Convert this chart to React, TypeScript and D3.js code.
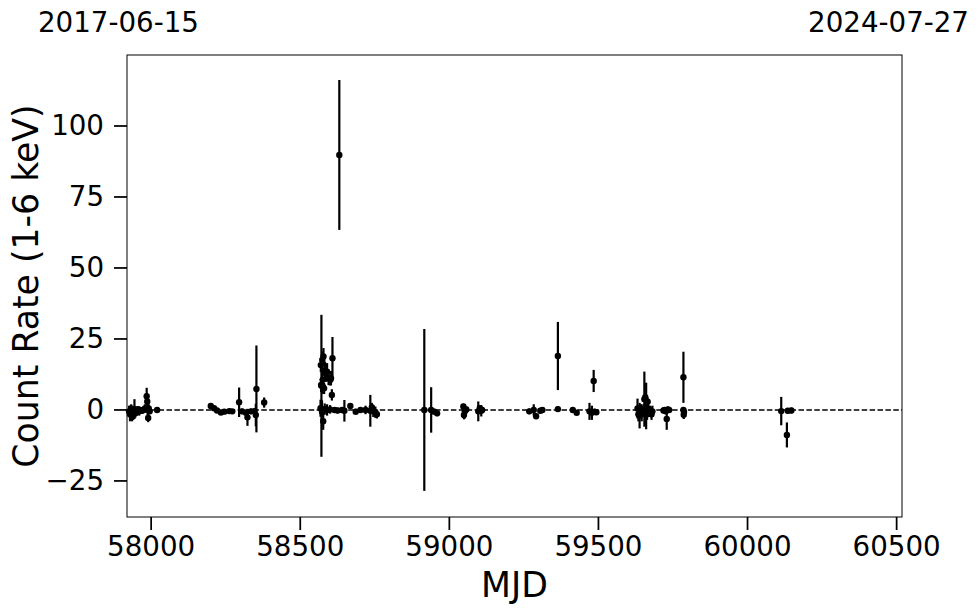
import React from "react";
import * as d3 from "d3";

// Light curve data (MJD, count rate 1-6 keV, 1-sigma error)
const mjd = [
  57926, 57929, 57933, 57936, 57940, 57944, 57947, 57951, 57956, 57960, 57964, 57969, 57974, 57979, 57985, 57987, 57988, 57990, 57992, 57995, 58020,
  58200, 58211, 58221, 58234, 58245, 58262, 58272, 58295, 58305, 58318, 58323, 58335, 58346, 58351, 58353, 58379,
  58569, 58570, 58571, 58574, 58575, 58576, 58578, 58580, 58583, 58586, 58590, 58595, 58601, 58603, 58606, 58608,
  58568, 58573, 58577, 58582, 58590, 58600, 58615, 58625, 58640, 58648, 58668, 58686, 58702, 58719, 58735, 58740, 58745, 58752, 58757, 58631,
  58916, 58939, 58950, 58959, 59047, 59049, 59052, 59057, 59097, 59102, 59107, 59110,
  59268, 59283, 59291, 59305, 59312, 59364, 59364, 59414, 59427, 59470, 59478, 59484, 59487, 59493,
  59631, 59634, 59638, 59642, 59645, 59650, 59654, 59657, 59660, 59663, 59665, 59669, 59673, 59678, 59681,
  59718, 59722, 59726, 59729, 59733, 59737, 59785, 59785, 59786, 59787,
  60113, 60132, 60135, 60147,
];
const rate = [
  -0.5, -1.5, 0.5, -2.5, -1.0, 0.3, -1.2, 0, 0.3, -0.5, 0, -0.3, 0, 0.5, 4.8, 3.0, 0.2, -2.8, 0.5, -0.5, 0,
  1.4, 0.6, -0.2, -0.9, -0.6, -0.4, -0.5, 2.7, -0.5, -1.0, -2.6, -0.5, -0.5, -1.8, 7.4, 2.6,
  15.8, 8.8, 8.5, 17.6, 10.6, 8.2, 18.8, 7.6, 14.0, 12.9, 13.5, 11.2, 10.6, 11.2, 5.3, 18.2,
  0.6, -0.6, -4.0, 0.3, 0, 0.2, 0, -0.2, 0, -0.3, 1.4, -0.6, 0, 0, -0.3, 1.0, -0.5, -0.8, -1.5, 89.8,
  0, 0, -0.6, -1.2, 1.2, -1.8, -0.5, 0.2, -0.5, 0.6, -0.3, 0,
  -0.5, 0, -2.2, -0.3, 0, 19.0, 0.3, 0, -1.0, -0.5, -1.0, 10.2, -0.6, -0.8,
  0.5, -1.5, -2.0, 0, -1.0, -0.5, 3.8, 4.5, 1.4, -1.5, 2.9, -0.5, 0, -1.5, -0.5,
  -0.2, 0, -0.5, -3.2, 0.2, 0, 11.5, 0, -1.7, -0.7,
  -0.4, -8.8, -0.3, -0.2,
];
const rateErr = [
  2, 2.5, 1.5, 1.5, 2, 3.5, 1.5, 1, 1, 1.5, 1, 1, 1, 1.5, 3, 2, 2, 1.5, 1.5, 1, 0.8,
  0.8, 0.8, 0.8, 0.8, 0.8, 0.8, 0.8, 5.2, 1, 1, 3, 1, 1.2, 4, 15.3, 1.8,
  2.5, 2.5, 25, 3, 3, 2.5, 3, 2, 3, 3, 3, 2.5, 2, 2.5, 2, 7.5,
  3, 4, 3, 2, 2, 1.5, 1, 1, 1, 3.8, 1, 1, 1, 1.5, 5.6, 1.5, 2, 2, 1.5, 26.4,
  28.5, 8, 1, 1, 1, 1.5, 2.5, 1, 3.5, 1, 2, 1,
  1, 2, 1, 1, 1, 12, 1, 0.8, 0.8, 3, 2.5, 3.9, 1, 1,
  3.5, 2.5, 4.5, 2, 3, 2, 9.7, 1.5, 8.2, 2, 1.5, 2, 1.5, 2, 2,
  1, 1, 1, 3.8, 1, 1, 9, 1, 1.5, 1.5,
  5, 4.4, 1, 1,
];

const xTicks = [58000, 58500, 59000, 59500, 60000, 60500];
const yTicks = [-25, 0, 25, 50, 75, 100];
const startDate = "2017-06-15";
const endDate = "2024-07-27";
const xLabel = "MJD";
const yLabel = "Count Rate (1-6 keV)";

const W = 980;
const H = 613;
const M = { left: 127, right: 902, top: 55, bottom: 517 };
const FONT = "DejaVu Sans, sans-serif";

export default function App() {
  const x = d3.scaleLinear().domain([57919, 60518]).range([M.left, M.right]);
  const y = d3.scaleLinear().domain([-37.7, 125]).range([M.bottom, M.top]);
  const pts = mjd.map((m, i) => ({ m, v: rate[i], e: rateErr[i] }));

  return (
    <svg
      width={W}
      height={H}
      style={{ position: "absolute", left: 0, top: 0, background: "#fff" }}
      fontFamily={FONT}
    >
      <rect x={0} y={0} width={W} height={H} fill="#fff" />
      {/* zero line */}
      <line
        x1={M.left}
        x2={M.right}
        y1={y(0)}
        y2={y(0)}
        stroke="#000"
        strokeWidth={1.5}
        strokeDasharray="5.5,2.4"
      />
      {/* error bars */}
      {pts.map((p, i) => (
        <line
          key={"e" + i}
          x1={x(p.m)}
          x2={x(p.m)}
          y1={y(p.v - p.e)}
          y2={y(p.v + p.e)}
          stroke="#000"
          strokeWidth={2.2}
        />
      ))}
      {pts.map((p, i) => (
        <circle key={"p" + i} cx={x(p.m)} cy={y(p.v)} r={3.2} fill="#000" />
      ))}
      {/* frame */}
      <rect
        x={M.left}
        y={M.top}
        width={M.right - M.left}
        height={M.bottom - M.top}
        fill="none"
        stroke="#000"
        strokeWidth={1}
      />
      {/* x ticks */}
      {xTicks.map((t) => (
        <g key={"xt" + t}>
          <line x1={x(t)} x2={x(t)} y1={M.bottom} y2={M.bottom + 13} stroke="#000" strokeWidth={1.75} />
          <text x={x(t)} y={556} fontSize={27.7} textAnchor="middle" fill="#000">
            {t}
          </text>
        </g>
      ))}
      {/* y ticks */}
      {yTicks.map((t) => (
        <g key={"yt" + t}>
          <line x1={M.left - 13} x2={M.left} y1={y(t)} y2={y(t)} stroke="#000" strokeWidth={1.75} />
          <text
            x={M.left - 23}
            y={y(t)}
            fontSize={27.7}
            textAnchor="end"
            dominantBaseline="central"
            fill="#000"
          >
            {t < 0 ? "\u2212" + Math.abs(t) : t}
          </text>
        </g>
      ))}
      <text x={(M.left + M.right) / 2} y={597} fontSize={34.7} textAnchor="middle" fill="#000">
        {xLabel}
      </text>
      <text
        transform={`translate(38, ${(M.top + M.bottom) / 2}) rotate(-90)`}
        fontSize={34.7}
        textAnchor="middle"
        fill="#000"
      >
        {yLabel}
      </text>
      <text x={38} y={32} fontSize={27.7} textAnchor="start" fill="#000">
        {startDate}
      </text>
      <text x={969} y={32} fontSize={27.7} textAnchor="end" fill="#000">
        {endDate}
      </text>
    </svg>
  );
}
